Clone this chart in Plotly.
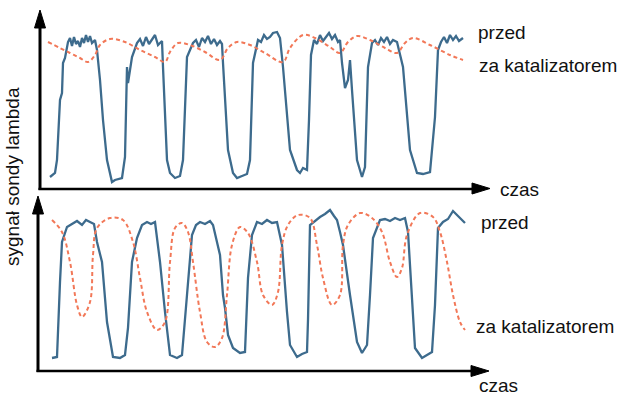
import plotly.graph_objects as go

# ---- data (time in arbitrary units, signal in arbitrary units) ----
# top panel: signal before catalyst (przed) and after catalyst (za katalizatorem)
top_before_t = [10, 15, 17, 20, 22, 23, 25, 28, 30, 32, 34, 36, 38, 40, 42, 44, 46, 48, 50, 52, 55,
                57, 60, 63, 67, 72, 75, 78, 82, 85, 87, 88, 92, 97, 100, 103, 106, 109, 112, 115, 118, 122,
                123, 127, 130, 135, 140, 143, 147, 153, 156, 159, 162, 165, 168, 171, 174, 177, 180, 182,
                183, 188, 193, 197, 202, 207, 210, 213, 218, 221, 224, 227, 230, 233, 237, 240,
                243, 250, 257, 260, 263, 267, 269, 271, 274, 277, 280, 283, 286, 289, 292, 295, 298, 300,
                302, 305, 308, 310, 312, 317, 322, 325, 328, 332, 335, 338, 341, 344, 347, 350, 353, 357,
                363, 370, 377, 383, 390, 395, 398, 401, 404, 407, 410, 413, 416, 419, 423]
top_before_v = [13, 17, 30, 90, 97, 127, 132, 148, 152, 144, 153, 146, 149, 143, 152, 147, 155, 148, 154, 147, 150,
                140, 110, 70, 30, 8, 10, 11, 12, 33, 123, 107, 133, 147, 151, 144, 153, 146, 150, 155, 145, 149,
                123, 30, 17, 12, 14, 30, 133, 147, 150, 143, 152, 148, 154, 146, 151, 145, 149, 146,
                127, 40, 17, 12, 14, 16, 30, 127, 150, 148, 155, 151, 153, 157, 158, 152,
                123, 40, 20, 17, 22, 20, 70, 135, 150, 146, 155, 149, 153, 157, 151, 155, 148, 150,
                127, 102, 110, 130, 100, 30, 13, 23, 123, 147, 150, 145, 152, 148, 153, 146, 150, 148,
                123, 40, 17, 16, 18, 73, 140, 148, 153, 147, 155, 150, 154, 149, 152]
top_after_t = [8, 20, 30, 40, 48, 55, 60, 70, 85, 100, 115, 125, 130, 138, 150, 165, 180, 188, 197, 210,
               225, 243, 250, 263, 275, 290, 300, 308, 317, 330, 345, 357, 365, 373, 390, 410, 423]
top_after_v = [148, 142, 137, 132, 128, 135, 145, 151, 148, 140, 133, 128, 138, 147, 145, 138, 130, 142, 148, 145,
               137, 128, 142, 155, 152, 143, 137, 148, 154, 150, 142, 137, 147, 152, 145, 135, 130]

# bottom panel
bot_before_t = [12, 17, 20, 22, 27, 32, 37, 42, 46, 50, 54, 57, 62, 67, 73, 80, 85, 88, 92, 97, 102, 107, 111, 115,
                120, 125, 130, 137, 142, 147, 152, 156, 160, 165, 170, 173, 180, 183, 185, 188, 193, 200, 205,
                208, 212, 217, 222, 227, 232, 237, 242, 247, 250, 257, 262, 267, 268, 270, 275, 280, 285, 290,
                294, 297, 300, 303, 310, 317, 322, 327, 330, 333, 340, 345, 350, 355, 360, 365,
                368, 372, 375, 382, 387, 392, 395, 398, 403, 408, 413, 418, 422, 425]
bot_before_v = [13, 14, 89, 129, 144, 147, 150, 146, 151, 149, 147, 129, 109, 49, 14, 13, 16, 43, 109, 133, 146, 149,
                147, 149, 109, 59, 16, 13, 16, 76, 136, 146, 149, 147, 150, 146, 116, 76, 63, 36, 23, 18, 19,
                93, 136, 149, 147, 151, 148, 149, 126, 59, 26, 14, 17, 19, 51, 146, 150, 154, 157, 161,
                155, 151, 139, 126, 76, 29, 18, 26, 76, 133, 151, 152, 150, 153, 151, 153,
                139, 76, 23, 13, 16, 19, 66, 143, 149, 152, 160, 155, 151, 148]
bot_after_t = [12, 22, 30, 37, 42, 50, 53, 57, 70, 83, 93, 100, 107, 117, 125, 130, 135, 142, 148, 153, 160,
               167, 175, 182, 187, 192, 200, 208, 217, 223, 232, 238, 242, 248, 258, 270, 277, 283, 292, 300,
               303, 308, 320, 332, 342, 350, 357, 362, 367, 380, 393, 400, 407, 413, 420, 425]
bot_after_v = [151, 139, 109, 66, 54, 69, 116, 143, 153, 151, 129, 93, 59, 41, 49, 109, 143, 148, 139, 109, 59,
               29, 24, 33, 76, 126, 144, 138, 109, 76, 66, 79, 126, 146, 156, 153, 126, 93, 66, 76,
               126, 146, 158, 153, 139, 109, 94, 103, 136, 158, 154, 139, 109, 76, 49, 41]

label_before = "przed"
label_after = "za katalizatorem"
label_time = "czas"
label_y = "sygnał sondy lambda"

BLUE = "#3d6b8d"
ORANGE = "#f27858"
W, H = 620, 398


def px(x):
    return x / W


def py(y):
    return 1 - y / H


fig = go.Figure()
fig.add_trace(go.Scatter(x=top_before_t, y=top_before_v, mode="lines", xaxis="x", yaxis="y",
                         line=dict(color=BLUE, width=2.3), showlegend=False))
fig.add_trace(go.Scatter(x=top_after_t, y=top_after_v, mode="lines", xaxis="x", yaxis="y",
                         line=dict(color=ORANGE, width=2, dash="4px,3px", shape="spline", smoothing=1.0),
                         showlegend=False))
fig.add_trace(go.Scatter(x=bot_before_t, y=bot_before_v, mode="lines", xaxis="x2", yaxis="y2",
                         line=dict(color=BLUE, width=2.3), showlegend=False))
fig.add_trace(go.Scatter(x=bot_after_t, y=bot_after_v, mode="lines", xaxis="x2", yaxis="y2",
                         line=dict(color=ORANGE, width=2, dash="4px,3px", shape="spline", smoothing=1.0),
                         showlegend=False))

ax_common = dict(visible=False, fixedrange=True)
fig.update_layout(
    width=W, height=H, autosize=False,
    margin=dict(l=0, r=0, t=0, b=0),
    paper_bgcolor="white", plot_bgcolor="rgba(0,0,0,0)",
    xaxis=dict(domain=[px(40), px(490)], range=[0, 450], anchor="y", **ax_common),
    yaxis=dict(domain=[py(190), py(10)], range=[0, 180], anchor="x", **ax_common),
    xaxis2=dict(domain=[px(40), px(490)], range=[0, 450], anchor="y2", **ax_common),
    yaxis2=dict(domain=[py(371), py(197)], range=[0, 174], anchor="x2", **ax_common),
    font=dict(family="Liberation Sans, Arial, sans-serif", color="#111111"),
)

shapes = []
LW = 3


def line(x0, y0, x1, y1, w=LW):
    shapes.append(dict(type="line", xref="paper", yref="paper", x0=px(x0), y0=py(y0), x1=px(x1), y1=py(y1),
                       line=dict(color="black", width=w)))


def tri(p1, p2, p3):
    path = "M {} {} L {} {} L {} {} Z".format(px(p1[0]), py(p1[1]), px(p2[0]), py(p2[1]), px(p3[0]), py(p3[1]))
    shapes.append(dict(type="path", xref="paper", yref="paper", path=path,
                       fillcolor="black", line=dict(color="black", width=1)))


# top panel axes
line(40, 190, 40, 26)
tri((40, 10), (34.5, 28), (45.5, 28))
line(38.5, 189, 474, 189, 2.5)
tri((490, 188.5), (472, 183), (472, 194))
# bottom panel axes
line(38, 372, 38, 212)
tri((38, 196), (32.5, 214), (43.5, 214))
line(36.5, 371, 474, 371, 2.5)
tri((489, 371), (471, 365.5), (471, 376.5))

fig.update_layout(shapes=shapes)

FS = 19
ann = []


def text(t, x, y, xanchor="left", angle=0):
    ann.append(dict(text=t, x=px(x), y=py(y), xref="paper", yref="paper", xanchor=xanchor, yanchor="middle",
                    showarrow=False, textangle=angle, font=dict(size=FS, color="#111111")))


text(label_before, 476, 32)
text(label_after, 477, 65)
text(label_time, 498, 190)
text(label_before, 479, 222)
text(label_after, 474, 326)
text(label_time, 477, 385)
text(label_y, 12, 177, xanchor="center", angle=-90)
fig.update_layout(annotations=ann)

fig.write_html("out.html")
